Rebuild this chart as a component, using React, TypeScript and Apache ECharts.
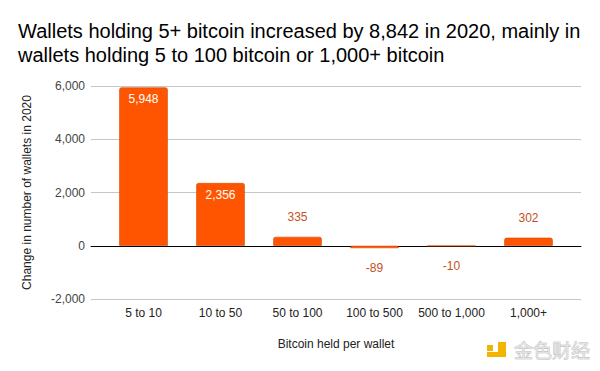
import React, { useEffect, useRef } from "react";
import * as echarts from "echarts";

const titleLines = [
  "Wallets holding 5+ bitcoin increased by 8,842 in 2020, mainly in",
  "wallets holding 5 to 100 bitcoin or 1,000+ bitcoin",
];
const categories = ["5 to 10", "10 to 50", "50 to 100", "100 to 500", "500 to 1,000", "1,000+"];
const values = [5948, 2356, 335, -89, -10, 302];
const yTicks = { min: -2000, max: 6000, interval: 2000 };
const yName = "Change in number of wallets in 2020";
const xName = "Bitcoin held per wallet";
const watermark = "金色财经";

const fmt = (v: number) => v.toLocaleString("en-US");

export default function App() {
  const ref = useRef<HTMLDivElement>(null);
  useEffect(() => {
    if (!ref.current) return;
    const chart = echarts.init(ref.current, null, { renderer: "svg" });
    const font = "Liberation Sans, Arial, sans-serif";
    const data = values.map((v) => {
      const inside = v > 1000;
      return {
        value: v,
        label: {
          show: true,
          position: inside ? "insideTop" : v >= 0 ? "top" : "bottom",
          distance: inside ? 6 : 14,
          color: inside ? "#ffffff" : "#c0531f",
          fontSize: 12,
          fontFamily: font,
          formatter: () => fmt(v),
        },
      };
    });
    chart.setOption({
      animation: false,
      backgroundColor: "#ffffff",
      title: {
        text: titleLines.join("\n"),
        left: 18,
        top: 19,
        padding: 0,
        textStyle: {
          fontFamily: font,
          fontSize: 20,
          fontWeight: "normal",
          color: "#000000",
          lineHeight: 24,
        },
      },
      graphic: [
        { type: "rect", shape: { x: 487, y: 345, width: 6, height: 6 }, style: { fill: "#f2b400" } },
        { type: "rect", shape: { x: 498, y: 342, width: 8, height: 15 }, style: { fill: "#f2b400" } },
        { type: "rect", shape: { x: 487, y: 352, width: 19, height: 5 }, style: { fill: "#f2b400" } },
        {
          type: "text",
          x: 514,
          y: 340,
          style: {
            text: watermark,
            fontSize: 19,
            fontFamily: "Noto Sans CJK SC",
            fill: "#e2e2e2",
            stroke: "#b0b0b0",
            lineWidth: 0.6,
          },
        },
      ],
      grid: [
        { left: 91, right: 19, top: 86, bottom: 72 },
        { left: 105, right: 33, top: 86, bottom: 72 },
      ],
      xAxis: [
        {
          type: "category",
          gridIndex: 0,
          data: [""],
          axisLine: { show: true, onZero: true, lineStyle: { color: "#000000", width: 1 } },
          axisTick: { show: false },
          axisLabel: { show: false },
          splitLine: { show: false },
        },
        {
          type: "category",
          gridIndex: 1,
          data: categories,
          axisLine: { show: false, onZero: false },
          axisTick: { show: false },
          axisLabel: { color: "#222222", fontSize: 12, fontFamily: font, margin: 8, interval: 0 },
          name: xName,
          nameLocation: "middle",
          nameGap: 39,
          nameTextStyle: { color: "#222222", fontSize: 12, fontFamily: font },
        },
      ],
      yAxis: [
        {
          type: "value",
          gridIndex: 0,
          min: yTicks.min,
          max: yTicks.max,
          interval: yTicks.interval,
          axisLine: { show: false },
          axisTick: { show: false },
          axisLabel: {
            color: "#444444",
            fontSize: 12,
            fontFamily: font,
            margin: 6,
            formatter: (v: number) => fmt(v),
          },
          splitLine: { lineStyle: { color: "#c6c6c6", width: 1 } },
          name: yName,
          nameLocation: "middle",
          nameGap: 58,
          nameTextStyle: { color: "#222222", fontSize: 12, fontFamily: font },
        },
        {
          type: "value",
          gridIndex: 1,
          min: yTicks.min,
          max: yTicks.max,
          interval: yTicks.interval,
          show: false,
          splitLine: { show: false },
        },
      ],
      series: [
        {
          type: "bar",
          xAxisIndex: 1,
          yAxisIndex: 1,
          data,
          barWidth: "63%",
          itemStyle: {
            color: "#ff5500",
            borderColor: "#d24800",
            borderWidth: 0.6,
            borderRadius: [2, 2, 0, 0],
          },
        },
      ],
    });
    return () => chart.dispose();
  }, []);
  return <div ref={ref} style={{ width: 600, height: 371, margin: -8 }} />;
}
